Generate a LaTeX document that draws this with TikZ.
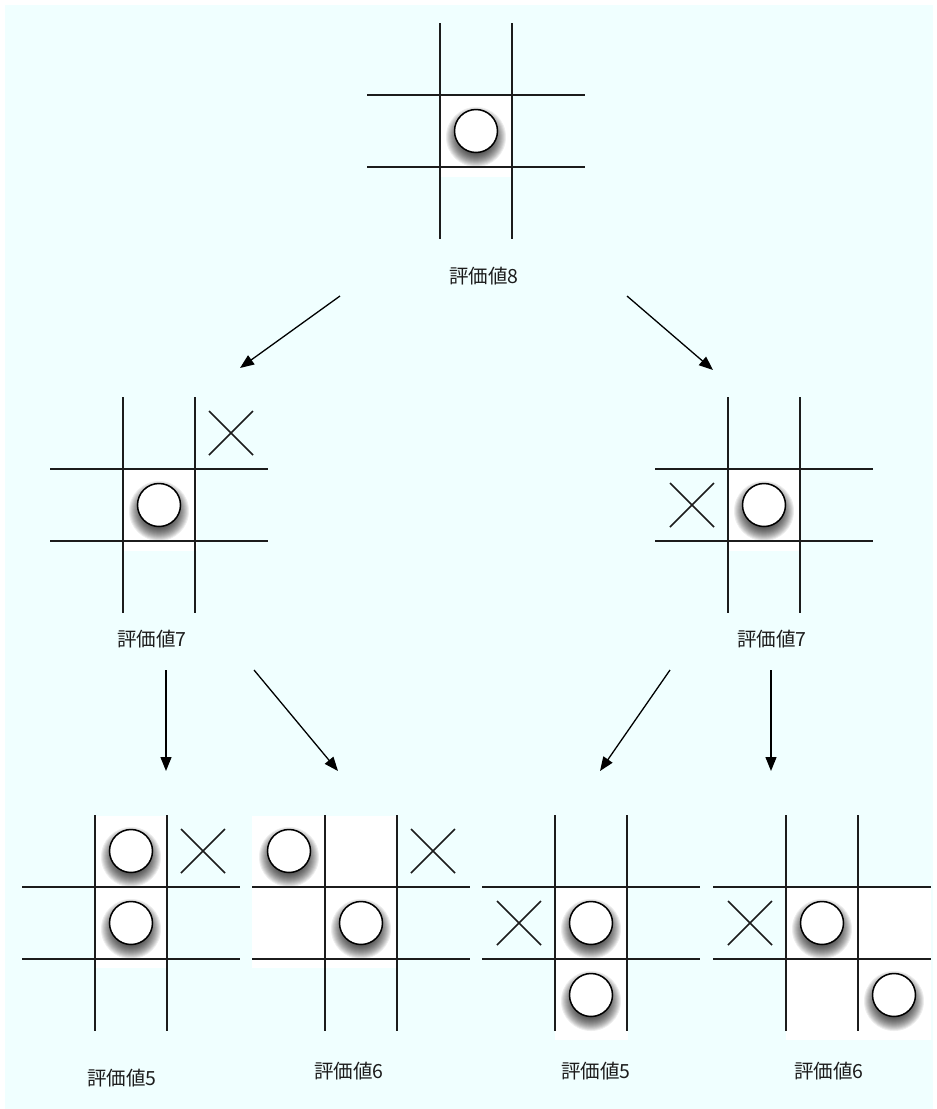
\documentclass[tikz,border=0pt]{standalone}
\usepackage{fontspec}
\newfontfamily\jpfont{Noto Sans CJK JP}
\usetikzlibrary{arrows.meta}
\definecolor{paper}{RGB}{240,255,255}
\definecolor{ink}{RGB}{28,28,28}

\tikzset{
  gridline/.style={line width=1.6pt, draw=ink},
  stoneface/.style={line width=1.5pt, draw=black, fill=white},
  crossline/.style={line width=1.5pt, draw=ink},
  pad/.style={fill=white},
  score/.style={font=\jpfont\fontsize{19.5}{22}\selectfont, text=ink, inner sep=0pt},
  move/.style={line width=1.3pt, draw=black, -{Triangle[length=14pt,width=11pt]}},
}

% board lines around the centre of the middle cell
\newcommand\drawgrid[2]{%
  \foreach \d in {-36,36}{
    \draw[gridline] (#1+\d,#2-108) -- (#1+\d,#2+108);
    \draw[gridline] (#1-109,#2+\d) -- (#1+109,#2+\d);
  }}
% a round stone with a soft drop shadow
\newcommand\drawstone[2]{%
  \foreach \k in {15,...,30}{\fill[black,opacity=0.07] (#1,#2+6) circle (\k pt);}
  \draw[stoneface] (#1,#2) circle (21.5pt);}
% a cross mark
\newcommand\drawcross[2]{%
  \draw[crossline] (#1-22,#2-22) -- (#1+22,#2+22) (#1-22,#2+22) -- (#1+22,#2-22);}

\begin{document}
\begin{tikzpicture}[x=1pt,y=-1pt]
\useasboundingbox (0,0) rectangle (937,1109);
\fill[white] (0,0) rectangle (937,1109);
\fill[paper] (5,5) rectangle (933,1109);

% root position
\fill[pad] (440,95) rectangle (513,177);
\drawstone{476}{131}
\drawgrid{476}{131}
\node[score] (s0) at (484,276) {評価値8};

% second level, left
\fill[pad] (123,469) rectangle (197,551);
\drawstone{159}{505}
\drawgrid{159}{505}
\drawcross{231}{433}
\node[score] (s1) at (152,639) {評価値7};

% second level, right
\fill[pad] (728,469) rectangle (801,551);
\drawstone{764}{505}
\drawgrid{764}{505}
\drawcross{692}{505}
\node[score] (s2) at (772,639) {評価値7};

% third level
\fill[pad] (95,816) rectangle (168,968);
\drawstone{131}{851}
\drawstone{131}{923}
\drawgrid{131}{923}
\drawcross{203}{851}
\node[score] (s3) at (122,1078) {評価値5};

\fill[pad] (252,816) rectangle (398,968);
\drawstone{289}{851}
\drawstone{361}{923}
\drawgrid{361}{923}
\drawcross{433}{851}
\node[score] (s4) at (349,1071) {評価値6};

\fill[pad] (555,887) rectangle (628,1040);
\drawstone{591}{923}
\drawstone{591}{995}
\drawgrid{591}{923}
\drawcross{519}{923}
\node[score] (s5) at (596,1071) {評価値5};

\fill[pad] (786,887) rectangle (931,1040);
\drawstone{822}{923}
\drawstone{894}{995}
\drawgrid{822}{923}
\drawcross{750}{923}
\node[score] (s6) at (829,1071) {評価値6};

% moves
\coordinate (m1a) at (340,296); \coordinate (m1b) at (240,368);
\coordinate (m2a) at (627,296); \coordinate (m2b) at (713,370);
\coordinate (m3a) at (166,670); \coordinate (m3b) at (166,771);
\coordinate (m4a) at (254,670); \coordinate (m4b) at (338,771);
\coordinate (m5a) at (670,670); \coordinate (m5b) at (600,771);
\coordinate (m6a) at (771,670); \coordinate (m6b) at (771,771);
\draw[move] (m1a) -- (m1b);
\draw[move] (m2a) -- (m2b);
\draw[move] (m3a) -- (m3b);
\draw[move] (m4a) -- (m4b);
\draw[move] (m5a) -- (m5b);
\draw[move] (m6a) -- (m6b);
\end{tikzpicture}
\end{document}
